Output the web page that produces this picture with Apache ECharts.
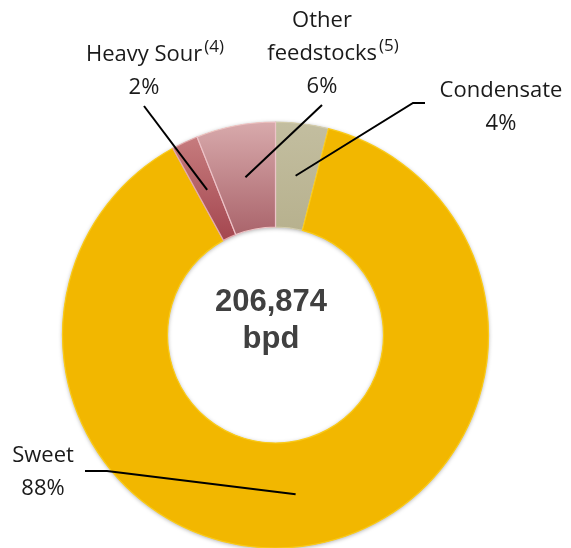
<!DOCTYPE html>
<html>
<head>
<meta charset="utf-8">
<script src="https://cdn.jsdelivr.net/npm/echarts@6/dist/echarts.min.js"></script>
<style>
html,body{margin:0;padding:0;background:#fff;}
#chart{width:571px;height:548px;}
</style>
</head>
<body>
<div id="chart"></div>
<script>
// ---- data ----
const categories = ['Condensate', 'Sweet', 'Heavy Sour', 'Other\nfeedstocks'];
const shares = [4, 88, 2, 6];
const footnotes = ['', '', '(4)', '(5)'];
const totalLabel = '206,874';
const unitLabel = 'bpd';

// ---- styles / layout ----
const sliceColors = [
  { top: '#C3BEA0', bottom: '#B7B18E', border: '#D2CDB2' },
  { top: '#F2B700', bottom: '#F2B700', border: '#FACB1A' },
  { top: '#C67C7E', bottom: '#A4464F', border: '#E2AAB0' },
  { top: '#D8AAAC', bottom: '#AA646B', border: '#EDC3C8' }
];
const CX = 275.5, CY = 335, R0 = 108, R1 = 213;
const labelPos = [
  { x: 501, y: 107, ends: [[413, 103], [425, 103]] },
  { x: 43,  y: 472, ends: [[107, 471], [85, 471]] },
  { x: 155, y: 71.5, ends: [[144, 106]] },
  { x: 333, y: 54, ends: [[322, 105]] }
];
const SUP_W = 22;

const total = shares.reduce((a, b) => a + b, 0);
let cum = 0;
const midAngles = shares.map(v => { const m = cum + v / 2; cum += v; return m / total * 360; });
function ringPoint(i) {
  const a = midAngles[i] * Math.PI / 180;
  const r = (R0 + R1) / 2;
  return [CX + r * Math.sin(a), CY - r * Math.cos(a)];
}

const common = {
  type: 'pie',
  center: [CX, CY],
  radius: [R0, R1],
  startAngle: 90,
  clockwise: true,
  avoidLabelOverlap: false,
  silent: true
};

const chart = echarts.init(document.getElementById('chart'));
const option = {
  animation: false,
  backgroundColor: '#fff',
  graphic: {
    elements: [{
      type: 'text',
      x: 271, y: 321,
      style: {
        text: totalLabel + '\n' + unitLabel,
        fill: '#404040',
        font: 'bold 31px "Liberation Sans", Arial, sans-serif',
        align: 'center',
        verticalAlign: 'middle',
        lineHeight: 37
      },
      z: 100
    }]
  },
  series: [
    // shadowed base ring
    Object.assign({}, common, {
      z: 0,
      label: { show: false },
      labelLine: { show: false },
      data: [{
        name: 'total', value: total,
        itemStyle: { color: '#F2B700', shadowBlur: 4, shadowColor: 'rgba(0,0,0,0.35)', shadowOffsetY: 1 }
      }]
    }),
    // slices
    Object.assign({}, common, {
      z: 1,
      label: { show: false },
      labelLine: { show: false },
      data: categories.map((c, i) => ({
        name: c,
        value: shares[i],
        itemStyle: {
          color: new echarts.graphic.LinearGradient(0, 0, 0, 1, [
            { offset: 0, color: sliceColors[i].top },
            { offset: 1, color: sliceColors[i].bottom }
          ]),
          borderColor: sliceColors[i].border,
          borderWidth: 1.2
        }
      }))
    }),
    // labels + leader lines
    Object.assign({}, common, {
      z: 5,
      itemStyle: { color: 'rgba(0,0,0,0)', borderWidth: 0 },
      data: categories.map((c, i) => ({ name: c, value: shares[i] })),
      label: {
        show: true,
        position: 'outside',
        color: '#1a1a1a',
        fontFamily: '"Open Sans", sans-serif',
        formatter: function (p) {
          const i = p.dataIndex;
          const lines = categories[i].split('\n');
          const sup = footnotes[i];
          const st = sup ? 'p' : 't';
          const out = [];
          lines.forEach((l, k) => {
            if (k === lines.length - 1 && sup) out.push('{t|' + l + '}{s|' + sup + '}');
            else out.push('{' + st + '|' + l + '}');
          });
          out.push('{' + st + '|' + p.value + '%}');
          return out.join('\n');
        },
        rich: {
          t: { fontSize: 22, lineHeight: 33, color: '#1a1a1a', fontFamily: '"Open Sans", sans-serif' },
          p: { fontSize: 22, lineHeight: 33, color: '#1a1a1a', fontFamily: '"Open Sans", sans-serif', padding: [0, SUP_W, 0, 0] },
          s: { fontSize: 17, lineHeight: 15, color: '#1a1a1a', fontFamily: '"Open Sans", sans-serif', padding: [0, 0, 16, 2] }
        }
      },
      labelLine: {
        show: true,
        length: 10,
        length2: 10,
        smooth: false,
        lineStyle: { color: '#000', width: 2 }
      },
      labelLayout: function (params) {
        const i = params.dataIndex;
        const lp = labelPos[i];
        return {
          x: lp.x,
          y: lp.y,
          align: 'center',
          verticalAlign: 'middle',
          labelLinePoints: [ringPoint(i)].concat(lp.ends)
        };
      }
    })
  ]
};
chart.setOption(option);
</script>
</body>
</html>
